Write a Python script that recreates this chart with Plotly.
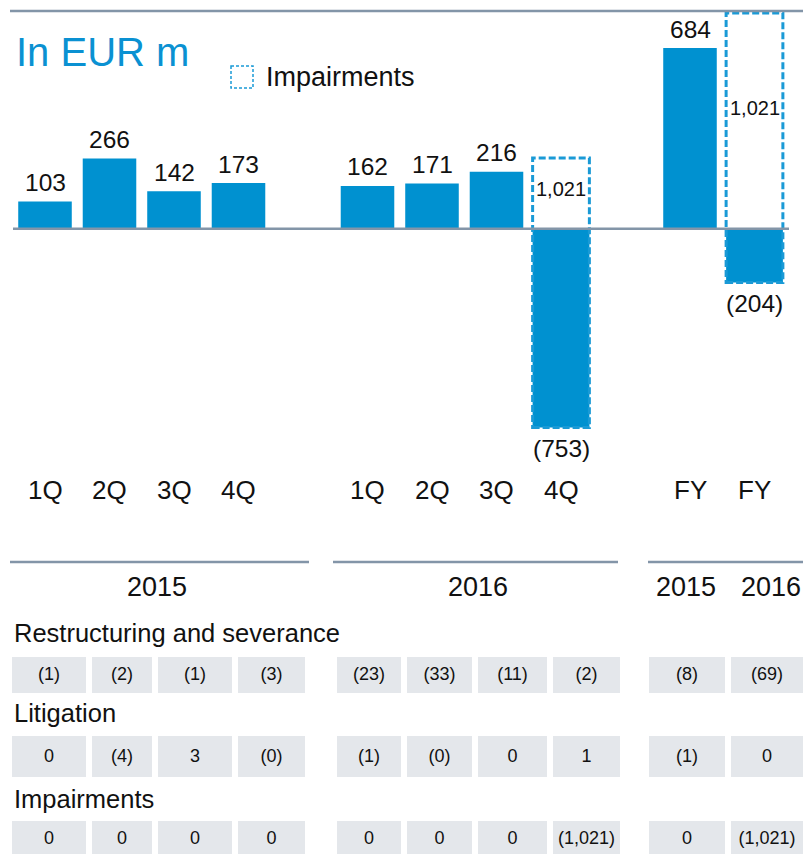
import plotly.graph_objects as go

# ---------------- data ----------------
categories = ["1Q", "2Q", "3Q", "4Q", "1Q", "2Q", "3Q", "4Q", "FY", "FY"]
group_sizes = [4, 4, 2]
values = [103, 266, 142, 173, 162, 171, 216, -753, 684, -204]
impairments = [0, 0, 0, 0, 0, 0, 0, 1021, 0, 1021]

year_headers = ["2015", "2016", "2015", "2016"]
row_labels = ["Restructuring and severance", "Litigation", "Impairments"]
restructuring = ["(1)", "(2)", "(1)", "(3)", "(23)", "(33)", "(11)", "(2)", "(8)", "(69)"]
litigation = ["0", "(4)", "3", "(0)", "(1)", "(0)", "0", "1", "(1)", "0"]
impairment_row = ["0", "0", "0", "0", "0", "0", "0", "(1,021)", "0", "(1,021)"]
table_rows = [restructuring, litigation, impairment_row]

# ---------------- layout constants ----------------
W, H = 803, 854
FONT = "Liberation Sans, Arial, sans-serif"
BLUE = "#0091d0"
DASH_BLUE = "#1a9ad6"
TITLE_BLUE = "#0a91d2"
LINE = "#8395a8"
CELL = "#e4e7eb"
TXT = "#111111"

PX_PER_SLOT = 64.5
SLOT0_PX = 45
PX_PER_EUR = 0.264
ZERO_PX = 228.7
BAR_W = 0.83
IMP_W = 0.88

# slot positions with one-slot gap between groups
slots = []
s = 0
for g in group_sizes:
    for _ in range(g):
        slots.append(s)
        s += 1
    s += 1

x_range = [-SLOT0_PX / PX_PER_SLOT, (W - SLOT0_PX) / PX_PER_SLOT]
y_range = [-(H - ZERO_PX) / PX_PER_EUR, ZERO_PX / PX_PER_EUR]


def fmt(v):
    t = f"{abs(v):,}"
    return f"({t})" if v < 0 else t


widths = [IMP_W if imp else BAR_W for imp in impairments]

fig = go.Figure()
fig.add_trace(go.Bar(x=slots, y=values, width=widths, marker=dict(color=BLUE, line=dict(width=0)),
                     hoverinfo="skip", xaxis="x", yaxis="y"))

annotations = []
shapes = []

# value labels
for x, v in zip(slots, values):
    annotations.append(dict(x=x, y=v, xref="x", yref="y", text=fmt(v), showarrow=False,
                            yanchor="middle", yshift=19 if v >= 0 else -21,
                            font=dict(family=FONT, size=24.5, color=TXT)))

# impairment dashed boxes
for x, v, imp in zip(slots, values, impairments):
    if imp:
        shapes.append(dict(type="rect", xref="x", yref="y", x0=x - IMP_W / 2, x1=x + IMP_W / 2,
                           y0=v, y1=v + imp, line=dict(color=DASH_BLUE, width=3, dash="7px,3px"),
                           fillcolor="rgba(0,0,0,0)", layer="above"))
        annotations.append(dict(x=x, y=(v + imp) * 0.56, xref="x", yref="y", text=fmt(imp),
                                showarrow=False, yanchor="middle",
                                font=dict(family=FONT, size=20, color=TXT)))

# category labels
for x, c in zip(slots, categories):
    annotations.append(dict(x=x, y=490, xref="x", yref="y2", text=c, showarrow=False,
                            yanchor="middle", font=dict(family=FONT, size=26, color=TXT)))

# zero line and top line
shapes.append(dict(type="line", xref="x2", yref="y", x0=13, x1=789, y0=0, y1=0,
                   line=dict(color=LINE, width=2.5)))
shapes.append(dict(type="line", xref="x2", yref="y2", x0=10, x1=W, y0=11, y1=11,
                   line=dict(color=LINE, width=2.5)))

# title and legend
annotations.append(dict(x=14, y=52, xref="x2", yref="y2", text="In EUR m", showarrow=False,
                        xanchor="left", yanchor="middle",
                        font=dict(family=FONT, size=40, color=TITLE_BLUE)))
shapes.append(dict(type="rect", xref="x2", yref="y2", x0=231, x1=253, y0=66, y1=88,
                   line=dict(color=DASH_BLUE, width=1.5, dash="3px,2px")))
annotations.append(dict(x=264, y=77, xref="x2", yref="y2", text="Impairments", showarrow=False,
                        xanchor="left", yanchor="middle",
                        font=dict(family=FONT, size=27, color=TXT)))

# ---------------- table ----------------
header_lines = [(10, 309), (333, 618), (648, W)]
for x0, x1 in header_lines:
    shapes.append(dict(type="line", xref="x2", yref="y2", x0=x0, x1=x1, y0=562, y1=562,
                       line=dict(color=LINE, width=2.5)))
header_x = [157, 478, 686, 771]
for hx, ht in zip(header_x, year_headers):
    annotations.append(dict(x=hx, y=587, xref="x2", yref="y2", text=ht, showarrow=False,
                            yanchor="middle", font=dict(family=FONT, size=27, color=TXT)))

col_edges = [(12, 86), (92, 152), (158, 232), (238, 305),
             (337, 401), (407, 472), (478, 547), (553, 620),
             (649, 725), (731, 803)]
row_label_y = [633, 713, 799]
row_cells = [(657, 693), (736, 777), (821, 860)]
row_text_y = [675, 757, 839]

col_c = [(a + b) / 2 for a, b in col_edges]
col_w = [b - a for a, b in col_edges]

for lbl, ly in zip(row_labels, row_label_y):
    annotations.append(dict(x=12, y=ly, xref="x2", yref="y2", text=lbl, showarrow=False,
                            xanchor="left", yanchor="middle",
                            font=dict(family=FONT, size=25.5, color=TXT)))

for (top, bot), ty, row in zip(row_cells, row_text_y, table_rows):
    fig.add_trace(go.Bar(x=col_c, y=[bot - top] * len(col_c), base=[top] * len(col_c), width=col_w,
                         marker=dict(color=CELL, line=dict(width=0)), hoverinfo="skip",
                         xaxis="x2", yaxis="y2"))
    fig.add_trace(go.Scatter(x=col_c, y=[ty] * len(col_c), mode="text", text=row,
                             textposition="middle center",
                             textfont=dict(family=FONT, size=18, color=TXT),
                             hoverinfo="skip", xaxis="x2", yaxis="y2"))

fig.update_layout(
    width=W, height=H, margin=dict(l=0, r=0, t=0, b=0),
    paper_bgcolor="white", plot_bgcolor="white", showlegend=False, barmode="overlay",
    xaxis=dict(domain=[0, 1], range=x_range, visible=False, fixedrange=True),
    yaxis=dict(domain=[0, 1], range=y_range, visible=False, fixedrange=True),
    xaxis2=dict(overlaying="x", range=[0, W], visible=False, anchor="y2", fixedrange=True),
    yaxis2=dict(overlaying="y", range=[H, 0], visible=False, anchor="x2", fixedrange=True),
    shapes=shapes, annotations=annotations,
)

fig.write_html("out.html", config={"displayModeBar": False},
               post_script="document.body.style.margin='0';document.body.style.overflow='hidden';")
